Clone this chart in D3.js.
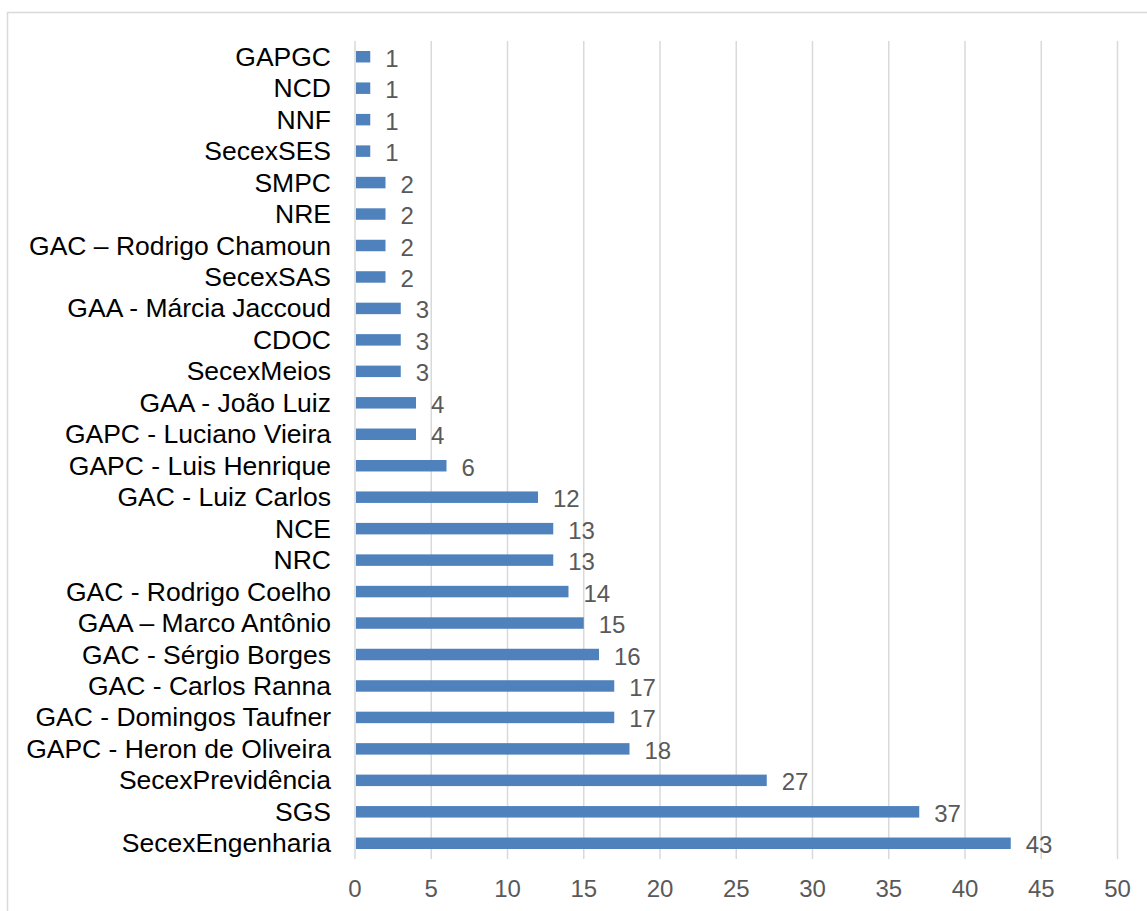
<!DOCTYPE html>
<html>
<head>
<meta charset="utf-8">
<script src="https://cdn.jsdelivr.net/npm/d3@7"></script>
<style>
  body { margin: 0; background: #fff; }
  text { font-family: "Liberation Sans", Arial, sans-serif; }
</style>
</head>
<body>
<div id="chart"></div>
<script>
// Chart data (top to bottom)
const categories = [
  "GAPGC", "NCD", "NNF", "SecexSES", "SMPC", "NRE", "GAC – Rodrigo Chamoun",
  "SecexSAS", "GAA - Márcia Jaccoud", "CDOC", "SecexMeios", "GAA - João Luiz",
  "GAPC - Luciano Vieira", "GAPC - Luis Henrique", "GAC - Luiz Carlos", "NCE",
  "NRC", "GAC - Rodrigo Coelho", "GAA – Marco Antônio", "GAC - Sérgio Borges",
  "GAC - Carlos Ranna", "GAC - Domingos Taufner", "GAPC - Heron de Oliveira",
  "SecexPrevidência", "SGS", "SecexEngenharia"
];
const values = [1, 1, 1, 1, 2, 2, 2, 2, 3, 3, 3, 4, 4, 6, 12, 13, 13, 14, 15, 16, 17, 17, 18, 27, 37, 43];
const xTicks = [0, 5, 10, 15, 20, 25, 30, 35, 40, 45, 50];

const width = 1147;
const height = 911;
const margin = { top: 41, right: 29.5, bottom: 52, left: 355 };

const svg = d3.select("#chart")
  .append("svg")
  .attr("width", width)
  .attr("height", height);

// outer chart border
svg.append("rect")
  .attr("x", 7.5)
  .attr("y", 12.5)
  .attr("width", 1200)
  .attr("height", 1000)
  .attr("fill", "none")
  .attr("stroke", "#d9d9d9")
  .attr("stroke-width", 1.5);

const x = d3.scaleLinear()
  .domain([0, 50])
  .range([margin.left, width - margin.right]);

const y = d3.scaleBand()
  .domain(categories)
  .range([margin.top, height - margin.bottom])
  .paddingInner(0.635)
  .paddingOuter(0.3175);

// vertical gridlines
svg.append("g")
  .selectAll("line")
  .data(xTicks)
  .enter()
  .append("line")
  .attr("x1", d => x(d))
  .attr("x2", d => x(d))
  .attr("y1", margin.top)
  .attr("y2", height - margin.bottom)
  .attr("stroke", "#d9d9d9")
  .attr("stroke-width", 1.5);

// bars
svg.append("g")
  .selectAll("rect")
  .data(values)
  .enter()
  .append("rect")
  .attr("x", x(0) + 1)
  .attr("y", (d, i) => y(categories[i]))
  .attr("width", d => x(d) - x(0) - 1)
  .attr("height", y.bandwidth())
  .attr("fill", "#4f81bd");

// value labels
svg.append("g")
  .selectAll("text")
  .data(values)
  .enter()
  .append("text")
  .attr("x", d => x(d) + 15)
  .attr("y", (d, i) => y(categories[i]) + y.bandwidth() / 2 + 1.5)
  .attr("dominant-baseline", "central")
  .attr("font-size", 24)
  .attr("fill", "#595959")
  .text(d => d);

// category axis labels
svg.append("g")
  .selectAll("text")
  .data(categories)
  .enter()
  .append("text")
  .attr("x", margin.left - 24)
  .attr("y", d => y(d) + y.bandwidth() / 2)
  .attr("dominant-baseline", "central")
  .attr("text-anchor", "end")
  .attr("font-size", 26.5)
  .attr("fill", "#000")
  .text(d => d);

// x tick labels
svg.append("g")
  .selectAll("text")
  .data(xTicks)
  .enter()
  .append("text")
  .attr("x", d => x(d))
  .attr("y", 888)
  .attr("dominant-baseline", "central")
  .attr("text-anchor", "middle")
  .attr("font-size", 24)
  .attr("fill", "#595959")
  .text(d => d);
</script>
</body>
</html>
